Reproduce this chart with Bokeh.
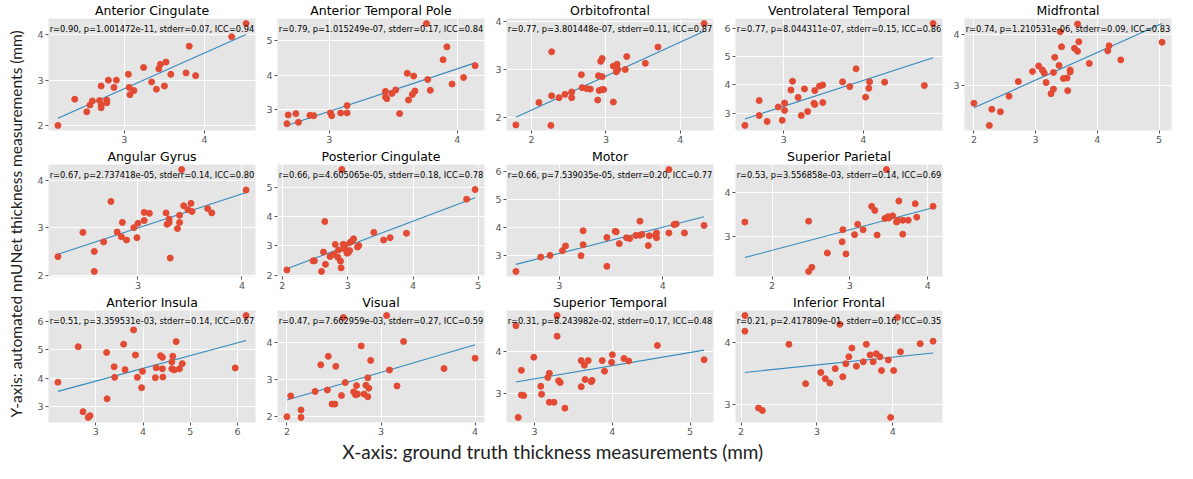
import math
from bokeh.plotting import figure
from bokeh.models import Range1d, Label, SingleIntervalTicker, Spacer
from bokeh.layouts import row, column
from bokeh.embed import file_html
from bokeh.resources import INLINE

# ---------------- data ----------------
titles = ["Anterior Cingulate", "Anterior Temporal Pole", "Orbitofrontal",
          "Ventrolateral Temporal", "Midfrontal", "Angular Gyrus",
          "Posterior Cingulate", "Motor", "Superior Parietal",
          "Anterior Insula", "Visual", "Superior Temporal", "Inferior Frontal"]

stats = ["r=0.90, p=1.001472e-11, stderr=0.07, ICC=0.94",
         "r=0.79, p=1.015249e-07, stderr=0.17, ICC=0.84",
         "r=0.77, p=3.801448e-07, stderr=0.11, ICC=0.87",
         "r=0.77, p=8.044311e-07, stderr=0.15, ICC=0.86",
         "r=0.74, p=1.210531e-06, stderr=0.09, ICC=0.83",
         "r=0.67, p=2.737418e-05, stderr=0.14, ICC=0.80",
         "r=0.66, p=4.605065e-05, stderr=0.18, ICC=0.78",
         "r=0.66, p=7.539035e-05, stderr=0.20, ICC=0.77",
         "r=0.53, p=3.556858e-03, stderr=0.14, ICC=0.69",
         "r=0.51, p=3.359531e-03, stderr=0.14, ICC=0.67",
         "r=0.47, p=7.662959e-03, stderr=0.27, ICC=0.59",
         "r=0.31, p=8.243982e-02, stderr=0.17, ICC=0.48",
         "r=0.21, p=2.417809e-01, stderr=0.16, ICC=0.35"]

ac_x = [2.17, 2.38, 2.53, 2.57, 2.60, 2.69, 2.71, 2.71, 2.71, 2.78, 2.78, 2.80, 2.87, 2.90, 3.05, 3.06,
        3.07, 3.12, 3.24, 3.34, 3.40, 3.43, 3.45, 3.50, 3.52, 3.58, 3.77, 3.81, 3.89, 4.34, 4.52]
ac_y = [2.00, 2.58, 2.30, 2.45, 2.54, 2.55, 2.87, 2.45, 2.39, 2.56, 2.50, 3.00, 2.84, 3.00, 3.13, 2.84,
        2.68, 2.77, 3.28, 2.96, 2.80, 3.25, 3.35, 2.87, 3.40, 3.13, 3.16, 3.75, 3.10, 3.96, 4.25]
ac_fit_x = [2.17, 4.52]
ac_fit_y = [2.16, 4.01]

atp_x = [2.67, 2.68, 2.74, 2.76, 2.85, 2.88, 3.01, 3.02, 3.09, 3.14, 3.14, 3.44, 3.44, 3.45, 3.49,
         3.52, 3.55, 3.61, 3.62, 3.65, 3.66, 3.67, 3.76, 3.77, 3.79, 3.89, 3.92, 3.96, 4.05, 4.14]
atp_y = [2.60, 2.85, 2.89, 2.64, 2.84, 2.83, 2.91, 2.83, 2.91, 2.91, 3.12, 3.53, 3.37, 3.32, 3.47,
         3.57, 2.89, 4.05, 3.28, 3.44, 3.97, 3.54, 5.48, 3.87, 3.56, 4.44, 4.81, 3.74, 3.93, 4.27]
atp_fit_x = [2.67, 4.14]
atp_fit_y = [2.55, 4.35]

of_x = [1.79, 2.10, 2.27, 2.26, 2.27, 2.37, 2.45, 2.54, 2.54, 2.67, 2.68, 2.74, 2.79, 2.89, 2.90, 2.91,
        2.93, 2.95, 2.95, 2.95, 2.97, 3.10, 3.10, 3.14, 3.15, 3.16, 3.26, 3.28, 3.53, 3.70, 4.32]
of_y = [1.84, 2.31, 3.37, 1.83, 2.45, 2.41, 2.48, 2.53, 2.41, 2.89, 2.62, 2.60, 2.59, 2.36, 2.87, 2.56,
        3.17, 3.23, 2.85, 2.58, 2.58, 3.07, 2.32, 2.95, 3.11, 3.00, 3.00, 3.27, 3.13, 3.47, 3.96]
of_fit_x = [1.79, 4.32]
of_fit_y = [2.00, 3.80]

vt_x = [2.51, 2.69, 2.69, 2.79, 2.93, 2.98, 3.01, 3.01, 3.09, 3.11, 3.18, 3.22, 3.26, 3.30, 3.38,
        3.39, 3.39, 3.45, 3.49, 3.49, 3.74, 3.83, 3.91, 4.03, 4.07, 4.08, 4.27, 4.77, 4.88]
vt_y = [2.57, 3.45, 2.92, 2.71, 3.22, 2.75, 3.10, 3.36, 3.82, 4.13, 3.56, 2.92, 3.86, 3.06, 3.35,
        3.80, 3.31, 3.96, 4.00, 3.38, 4.11, 3.94, 4.57, 3.57, 3.88, 4.11, 4.10, 3.98, 6.17]
vt_fit_x = [2.51, 4.88]
vt_fit_y = [2.80, 4.96]

mf_x = [2.00, 2.25, 2.29, 2.43, 2.57, 2.72, 2.95, 3.05, 3.11, 3.14, 3.17, 3.25, 3.29, 3.29, 3.31, 3.38,
        3.40, 3.42, 3.45, 3.51, 3.52, 3.56, 3.56, 3.63, 3.68, 3.68, 3.70, 3.87, 4.17, 4.19, 4.38, 5.05]
mf_y = [2.64, 2.20, 2.52, 2.47, 2.78, 3.07, 3.27, 3.38, 3.30, 3.24, 3.05, 2.83, 3.25, 2.92, 3.55, 3.39,
        4.06, 3.76, 3.13, 3.14, 2.89, 3.30, 3.26, 3.73, 3.67, 4.21, 3.86, 3.43, 3.68, 3.78, 3.50, 3.85]
mf_fit_x = [2.00, 5.05]
mf_fit_y = [2.55, 4.22]

ag_x = [2.23, 2.47, 2.58, 2.58, 2.67, 2.74, 2.80, 2.84, 2.85, 2.89, 2.96, 2.99, 3.00, 3.06, 3.06, 3.11,
        3.27, 3.28, 3.30, 3.30, 3.31, 3.38, 3.40, 3.40, 3.42, 3.44, 3.48, 3.51, 3.52, 3.67, 3.71, 4.04]
ag_y = [2.39, 2.90, 2.50, 2.08, 2.70, 3.55, 2.91, 2.81, 3.11, 2.74, 3.00, 2.79, 3.09, 3.15, 3.32, 3.30,
        3.31, 3.07, 3.11, 3.18, 2.36, 2.98, 3.11, 3.26, 4.22, 3.46, 3.38, 3.51, 3.34, 3.40, 3.31, 3.79]
ag_fit_x = [2.23, 4.04]
ag_fit_y = [2.44, 3.74]

pc_x = [2.07, 2.47, 2.49, 2.60, 2.63, 2.65, 2.66, 2.73, 2.79, 2.81, 2.85, 2.86, 2.89, 2.90, 2.91, 2.93,
        2.95, 2.96, 2.99, 3.01, 3.03, 3.04, 3.07, 3.09, 3.15, 3.17, 3.40, 3.55, 3.65, 3.90, 4.82, 4.95]
pc_y = [2.18, 2.49, 2.49, 2.13, 2.79, 3.83, 2.37, 2.64, 2.71, 3.05, 2.61, 2.86, 2.48, 2.25, 5.60, 3.05,
        2.90, 3.03, 2.75, 2.77, 2.84, 3.12, 3.17, 3.24, 2.96, 3.01, 3.46, 3.20, 3.28, 3.43, 4.59, 4.92]
pc_fit_x = [2.07, 4.95]
pc_fit_y = [2.22, 4.64]

mo_x = [2.58, 2.82, 2.91, 3.03, 3.06, 3.21, 3.23, 3.23, 3.46, 3.46, 3.54, 3.55, 3.58, 3.65, 3.68,
        3.74, 3.78, 3.78, 3.80, 3.86, 3.87, 3.93, 3.94, 3.94, 4.06, 4.06, 4.11, 4.13, 4.21, 4.40]
mo_y = [2.43, 2.94, 3.00, 3.17, 3.34, 2.99, 3.88, 3.38, 3.64, 2.61, 3.86, 3.84, 3.42, 3.63, 3.60,
        3.71, 4.22, 3.72, 3.75, 3.35, 3.70, 3.72, 3.63, 3.80, 3.80, 6.06, 4.10, 4.12, 3.80, 4.07]
mo_fit_x = [2.58, 4.40]
mo_fit_y = [2.68, 4.38]

sp_x = [1.65, 2.47, 2.47, 2.51, 2.71, 2.90, 2.91, 2.95, 3.06, 3.10, 3.17, 3.28, 3.32, 3.35,
        3.45, 3.47, 3.49, 3.50, 3.55, 3.60, 3.62, 3.63, 3.68, 3.68, 3.75, 3.84, 3.86, 4.07]
sp_y = [3.33, 3.35, 2.23, 2.32, 2.64, 2.89, 3.16, 2.62, 3.05, 3.28, 3.16, 3.68, 3.59, 3.04,
        3.41, 4.50, 3.45, 3.42, 3.47, 3.33, 3.37, 3.80, 3.06, 3.37, 3.37, 3.74, 3.44, 3.68]
sp_fit_x = [1.65, 4.07]
sp_fit_y = [2.54, 3.65]

ai_x = [2.20, 2.63, 2.73, 2.84, 2.88, 3.23, 3.24, 3.39, 3.40, 3.59, 3.62, 3.80, 3.84, 3.88, 3.97, 3.99,
        4.26, 4.28, 4.37, 4.41, 4.41, 4.42, 4.61, 4.61, 4.63, 4.66, 4.70, 4.77, 4.83, 5.95, 6.18]
ai_y = [3.86, 5.10, 2.83, 2.63, 2.69, 4.90, 3.28, 4.40, 4.03, 5.19, 4.30, 5.69, 4.81, 4.03, 3.67, 4.24,
        4.02, 4.37, 4.79, 4.73, 4.33, 4.04, 4.57, 4.33, 4.77, 4.29, 5.28, 4.33, 4.51, 4.36, 6.19]
ai_fit_x = [2.20, 6.18]
ai_fit_y = [3.54, 5.32]

vi_x = [2.00, 2.15, 2.15, 2.04, 2.30, 2.36, 2.43, 2.44, 2.48, 2.51, 2.52, 2.58, 2.60, 2.62, 2.71, 2.73,
        2.74, 2.75, 2.79, 2.82, 2.84, 2.86, 2.86, 2.87, 2.89, 3.06, 3.09, 3.17, 3.24, 3.67, 4.00]
vi_y = [2.00, 2.18, 1.98, 2.56, 2.68, 3.40, 2.72, 3.63, 2.34, 2.34, 3.36, 2.57, 4.68, 2.92, 2.67, 2.59,
        2.84, 2.61, 3.91, 2.61, 2.85, 2.54, 3.05, 2.77, 3.52, 4.73, 3.26, 2.83, 4.03, 3.30, 3.58]
vi_fit_x = [2.00, 4.00]
vi_fit_y = [2.45, 3.94]

st_x = [2.76, 2.79, 2.83, 2.83, 2.86, 2.99, 3.08, 3.09, 3.17, 3.19, 3.19, 3.25, 3.29, 3.29, 3.31, 3.33,
        3.39, 3.60, 3.60, 3.64, 3.65, 3.69, 3.73, 3.74, 3.87, 3.90, 3.99, 4.00, 4.15, 4.21, 4.58, 5.18]
st_y = [4.61, 2.43, 3.55, 2.96, 2.95, 3.86, 3.17, 2.98, 3.38, 3.48, 2.79, 2.79, 4.85, 4.36, 3.30, 3.26,
        2.65, 3.78, 3.16, 3.67, 3.33, 3.78, 3.28, 3.31, 3.78, 3.53, 3.74, 3.92, 3.83, 3.77, 4.14, 3.80]
st_fit_x = [2.76, 5.18]
st_fit_y = [3.27, 4.03]

if_x = [2.05, 2.05, 2.23, 2.28, 2.63, 2.85, 3.05, 3.11, 3.17, 3.24, 3.30, 3.34, 3.38, 3.42, 3.46,
        3.52, 3.61, 3.65, 3.70, 3.74, 3.78, 3.83, 3.85, 3.94, 3.97, 4.01, 4.06, 4.10, 4.36, 4.53]
if_y = [4.43, 4.18, 2.95, 2.91, 3.97, 3.34, 3.52, 3.42, 3.35, 3.58, 4.29, 3.45, 3.66, 3.77, 3.91,
        3.62, 3.69, 3.97, 3.80, 3.69, 3.82, 3.77, 3.55, 3.72, 2.80, 3.55, 4.40, 3.85, 3.98, 4.02]
if_fit_x = [2.05, 4.53]
if_fit_y = [3.52, 3.83]

x_label = "X-axis: ground truth thickness measurements (mm)"
y_label = "Y-axis: automated nnUNet thickness measurements (mm)"

# ---------------- styling ----------------
BG = "#E5E5E5"
PT = "#E24A33"
LN = "#348ABD"
TICK = "#555555"
FONT = "DejaVu Sans"
COL_W = 229
ROW_H = 146


def padded(vals):
    lo, hi = min(vals), max(vals)
    pad = 0.05 * (hi - lo)
    return lo - pad, hi + pad


def panel(title, stat, xs, ys, fx, fy):
    x0, x1 = padded(xs + fx)
    y0, y1 = padded(ys + fy)
    p = figure(width=COL_W, height=ROW_H, output_backend="svg", toolbar_location=None,
               x_range=Range1d(x0, x1), y_range=Range1d(y0, y1),
               min_border_left=18, min_border_right=4, min_border_top=15,
               min_border_bottom=16, title=title)
    p.title.align = "center"
    p.title.text_font = FONT
    p.title.text_font_size = "12.5px"
    p.title.text_font_style = "normal"
    p.title.text_color = "black"
    p.title.standoff = 1
    p.background_fill_color = BG
    p.border_fill_color = "white"
    p.outline_line_color = None
    for ax in (p.xaxis[0], p.yaxis[0]):
        ax.ticker = SingleIntervalTicker(interval=1, num_minor_ticks=0)
        ax.axis_line_color = None
        ax.major_tick_line_color = TICK
        ax.major_tick_out = 3
        ax.major_tick_in = 0
        ax.minor_tick_line_color = None
        ax.major_label_text_font = FONT
        ax.major_label_text_font_size = "9.5px"
        ax.major_label_text_color = TICK
        ax.major_label_standoff = 2
    p.xgrid.grid_line_color = "white"
    p.ygrid.grid_line_color = "white"
    p.xgrid.grid_line_width = 1
    p.ygrid.grid_line_width = 1
    p.line(fx, fy, line_color=LN, line_width=1.1)
    p.scatter(xs, ys, size=6, fill_color=PT, line_color=PT)
    p.add_layout(Label(x=(x0 + x1) / 2, y=y1, y_offset=-5, text=stat,
                       text_align="center", text_baseline="top",
                       text_font=FONT, text_font_size="8.3px", text_color="black"))
    return p


data = [(ac_x, ac_y, ac_fit_x, ac_fit_y), (atp_x, atp_y, atp_fit_x, atp_fit_y),
        (of_x, of_y, of_fit_x, of_fit_y), (vt_x, vt_y, vt_fit_x, vt_fit_y),
        (mf_x, mf_y, mf_fit_x, mf_fit_y), (ag_x, ag_y, ag_fit_x, ag_fit_y),
        (pc_x, pc_y, pc_fit_x, pc_fit_y), (mo_x, mo_y, mo_fit_x, mo_fit_y),
        (sp_x, sp_y, sp_fit_x, sp_fit_y), (ai_x, ai_y, ai_fit_x, ai_fit_y),
        (vi_x, vi_y, vi_fit_x, vi_fit_y), (st_x, st_y, st_fit_x, st_fit_y),
        (if_x, if_y, if_fit_x, if_fit_y)]

figs = [panel(t, s, *d) for t, s, d in zip(titles, stats, data)]

r1 = row(figs[0:5], spacing=0)
r2 = row(figs[5:9] + [Spacer(width=COL_W, height=ROW_H)], spacing=0)
r3 = row(figs[9:13] + [Spacer(width=COL_W, height=ROW_H)], spacing=0)
grid = column(r1, r2, r3, spacing=0)

# vertical overall label
yl = figure(width=30, height=3 * ROW_H, output_backend="svg", toolbar_location=None,
            x_range=Range1d(0, 1), y_range=Range1d(0, 1), min_border=0)
yl.axis.visible = False
yl.grid.visible = False
yl.outline_line_color = None
yl.add_layout(Label(x=0.5, y=0.49, text=y_label, angle=math.pi / 2,
                    text_align="center", text_baseline="middle",
                    text_font="Lato", text_font_size="15.5px", text_color="#222222"))

# horizontal overall label
xl = figure(width=30 + 5 * COL_W, height=24, output_backend="svg", toolbar_location=None,
            x_range=Range1d(0, 1), y_range=Range1d(0, 1), min_border=0)
xl.axis.visible = False
xl.grid.visible = False
xl.outline_line_color = None
xl.add_layout(Label(x=0.47, y=0.45, text=x_label,
                    text_align="center", text_baseline="middle",
                    text_font="Lato", text_font_size="19px", text_color="#222222"))

page = column(row(yl, grid, spacing=0), xl, spacing=0)

open("out.html", "w").write(file_html(page, INLINE))
